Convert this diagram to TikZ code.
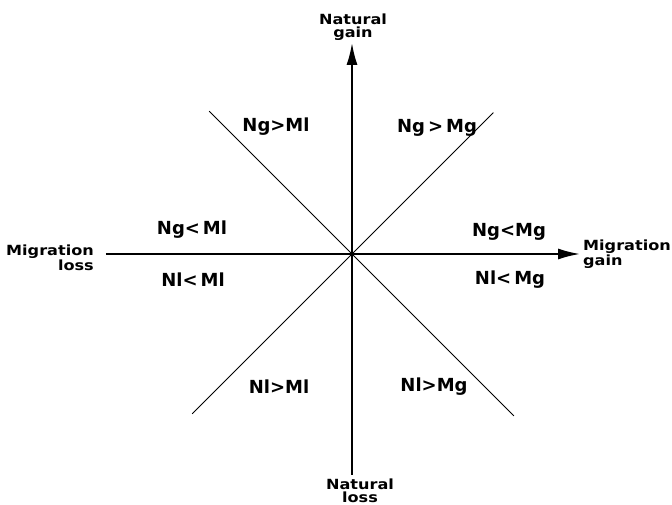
\documentclass[tikz,border=0pt]{standalone}
\usepackage{fontspec}
\setmainfont{DejaVu Sans}
\newfontfamily\axfont{DejaVu Sans Bold}[FakeStretch=1.15]
\usepackage{tikz}
\usetikzlibrary{arrows.meta, positioning}

\begin{document}
\begin{tikzpicture}[x=1pt, y=1pt,
  Q/.style={font=\bfseries\fontsize{18}{20}\selectfont, inner sep=0pt},
  A/.style={font=\axfont\fontsize{14}{13.5}\selectfont, inner sep=0pt},
  axis/.style={line width=1.9pt, -{Latex[length=22pt,width=11pt]}},
  diag/.style={line width=0.8pt}]
\useasboundingbox (-352,-251) rectangle (320,254);
% axes and diagonals meet in the origin
\coordinate (O) at (0,0);
\coordinate (top) at (0,211);
\coordinate (bot) at (0,-221);
\coordinate (lft) at (-246,0);
\coordinate (rgt) at (228,0);
\coordinate (nw) at (135:202);
\coordinate (ne) at (45:200);
\coordinate (sw) at (225:226);
\coordinate (se) at (-45:229);
\draw[diag] (nw)--(se);
\draw[diag] (sw)--(ne);
\draw[axis] (bot)--(top);
\draw[axis] (lft)--(rgt);
% axis labels
\node[A, align=center] (ngain) at (1,227) {Natural\\gain};
\node[A, align=center] (nloss) at (8,-237) {Natural\\loss};
\node[A, align=right, left=12pt of lft, yshift=-4pt] (mloss) {Migration\\loss};
\node[A, align=left, right=3pt of rgt] (mgain) {Migration\\gain};
% sector labels
\node[Q] (s1) at (-76,127) {Ng>Ml};
\node[Q] (s2) at (85,126) {Ng\,>\,Mg};
\node[Q] (s3) at (-160,24) {Ng<\,Ml};
\node[Q] (s4) at (157,22) {Ng<Mg};
\node[Q] (s5) at (-159,-26) {Nl<\,Ml};
\node[Q] (s6) at (158,-26) {Nl<\,Mg};
\node[Q] (s7) at (-73,-133) {Nl>Ml};
\node[Q] (s8) at (82,-133) {Nl>Mg};
\end{tikzpicture}
\end{document}
